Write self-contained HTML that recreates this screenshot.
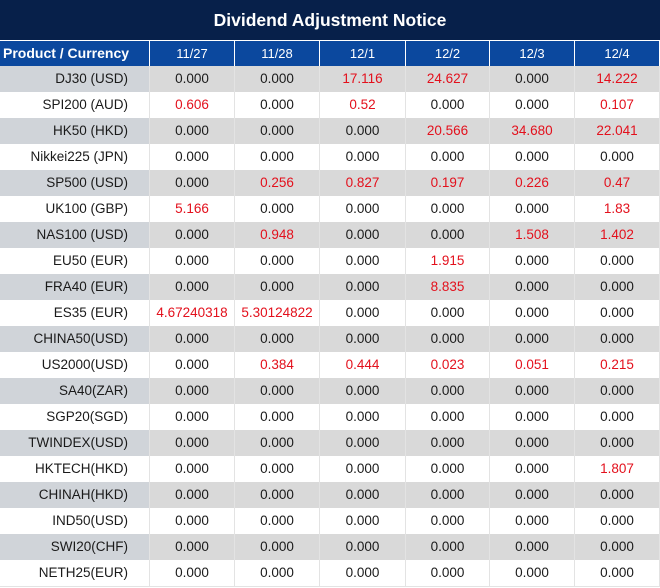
<!DOCTYPE html>
<html><head><meta charset="utf-8">
<style>
*{margin:0;padding:0;box-sizing:border-box}
body{width:660px;height:588px;background:#fff;font-family:"Liberation Sans",Arial,sans-serif;position:relative;overflow:hidden}
.title{position:absolute;left:0;top:0;width:660px;height:40px;background:#07204a;color:#fff;font-weight:bold;font-size:17.5px;text-align:center;line-height:40px}
.row{position:absolute;left:0;width:660px;height:26px}
.c{position:absolute;top:0;height:100%;font-size:13.5px;line-height:26px;text-align:center;color:#1a1a1a;white-space:nowrap}
.hdr .c{background:#0b489e;color:#fff;font-size:13px;line-height:25px}
.hdr .c0{text-align:left;padding-left:3px;padding-right:0;font-weight:bold;font-size:14px}
.c0{left:0;width:149px;text-align:right;padding-right:21px}
.c1{left:150px;width:84px}
.c2{left:235px;width:84px}
.c3{left:320px;width:85px}
.c4{left:406px;width:83px}
.c5{left:490px;width:84px}
.c6{left:575px;width:84px}
.g .c0{background:#d0d4d9}
.g .c1,.g .c2,.g .c3,.g .c4,.g .c5,.g .c6{background:#d9d9d9}
.r{color:#e3101c}
.vl{position:absolute;top:66px;height:521px;width:1px;background:#e3e3e3}
.bl{position:absolute;left:0;top:586px;width:660px;height:1px;background:#e3e3e3}
</style></head><body>
<div class="title">Dividend Adjustment Notice</div>
<div class="vl" style="left:149px"></div>
<div class="vl" style="left:234px"></div>
<div class="vl" style="left:319px"></div>
<div class="vl" style="left:405px"></div>
<div class="vl" style="left:489px"></div>
<div class="vl" style="left:574px"></div>
<div class="vl" style="left:659px"></div>
<div class="bl"></div>
<div class="row hdr" style="top:41px;height:25px"><div class="c c0">Product / Currency</div><div class="c c1">11/27</div><div class="c c2">11/28</div><div class="c c3">12/1</div><div class="c c4">12/2</div><div class="c c5">12/3</div><div class="c c6">12/4</div></div>

<div class="row g" style="top:66px"><div class="c c0">DJ30 (USD)</div><div class="c c1">0.000</div><div class="c c2">0.000</div><div class="c c3 r">17.116</div><div class="c c4 r">24.627</div><div class="c c5">0.000</div><div class="c c6 r">14.222</div></div>
<div class="row" style="top:92px"><div class="c c0">SPI200 (AUD)</div><div class="c c1 r">0.606</div><div class="c c2">0.000</div><div class="c c3 r">0.52</div><div class="c c4">0.000</div><div class="c c5">0.000</div><div class="c c6 r">0.107</div></div>
<div class="row g" style="top:118px"><div class="c c0">HK50 (HKD)</div><div class="c c1">0.000</div><div class="c c2">0.000</div><div class="c c3">0.000</div><div class="c c4 r">20.566</div><div class="c c5 r">34.680</div><div class="c c6 r">22.041</div></div>
<div class="row" style="top:144px"><div class="c c0">Nikkei225 (JPN)</div><div class="c c1">0.000</div><div class="c c2">0.000</div><div class="c c3">0.000</div><div class="c c4">0.000</div><div class="c c5">0.000</div><div class="c c6">0.000</div></div>
<div class="row g" style="top:170px"><div class="c c0">SP500 (USD)</div><div class="c c1">0.000</div><div class="c c2 r">0.256</div><div class="c c3 r">0.827</div><div class="c c4 r">0.197</div><div class="c c5 r">0.226</div><div class="c c6 r">0.47</div></div>
<div class="row" style="top:196px"><div class="c c0">UK100 (GBP)</div><div class="c c1 r">5.166</div><div class="c c2">0.000</div><div class="c c3">0.000</div><div class="c c4">0.000</div><div class="c c5">0.000</div><div class="c c6 r">1.83</div></div>
<div class="row g" style="top:222px"><div class="c c0">NAS100 (USD)</div><div class="c c1">0.000</div><div class="c c2 r">0.948</div><div class="c c3">0.000</div><div class="c c4">0.000</div><div class="c c5 r">1.508</div><div class="c c6 r">1.402</div></div>
<div class="row" style="top:248px"><div class="c c0">EU50 (EUR)</div><div class="c c1">0.000</div><div class="c c2">0.000</div><div class="c c3">0.000</div><div class="c c4 r">1.915</div><div class="c c5">0.000</div><div class="c c6">0.000</div></div>
<div class="row g" style="top:274px"><div class="c c0">FRA40 (EUR)</div><div class="c c1">0.000</div><div class="c c2">0.000</div><div class="c c3">0.000</div><div class="c c4 r">8.835</div><div class="c c5">0.000</div><div class="c c6">0.000</div></div>
<div class="row" style="top:300px"><div class="c c0">ES35 (EUR)</div><div class="c c1 r">4.67240318</div><div class="c c2 r">5.30124822</div><div class="c c3">0.000</div><div class="c c4">0.000</div><div class="c c5">0.000</div><div class="c c6">0.000</div></div>
<div class="row g" style="top:326px"><div class="c c0">CHINA50(USD)</div><div class="c c1">0.000</div><div class="c c2">0.000</div><div class="c c3">0.000</div><div class="c c4">0.000</div><div class="c c5">0.000</div><div class="c c6">0.000</div></div>
<div class="row" style="top:352px"><div class="c c0">US2000(USD)</div><div class="c c1">0.000</div><div class="c c2 r">0.384</div><div class="c c3 r">0.444</div><div class="c c4 r">0.023</div><div class="c c5 r">0.051</div><div class="c c6 r">0.215</div></div>
<div class="row g" style="top:378px"><div class="c c0">SA40(ZAR)</div><div class="c c1">0.000</div><div class="c c2">0.000</div><div class="c c3">0.000</div><div class="c c4">0.000</div><div class="c c5">0.000</div><div class="c c6">0.000</div></div>
<div class="row" style="top:404px"><div class="c c0">SGP20(SGD)</div><div class="c c1">0.000</div><div class="c c2">0.000</div><div class="c c3">0.000</div><div class="c c4">0.000</div><div class="c c5">0.000</div><div class="c c6">0.000</div></div>
<div class="row g" style="top:430px"><div class="c c0">TWINDEX(USD)</div><div class="c c1">0.000</div><div class="c c2">0.000</div><div class="c c3">0.000</div><div class="c c4">0.000</div><div class="c c5">0.000</div><div class="c c6">0.000</div></div>
<div class="row" style="top:456px"><div class="c c0">HKTECH(HKD)</div><div class="c c1">0.000</div><div class="c c2">0.000</div><div class="c c3">0.000</div><div class="c c4">0.000</div><div class="c c5">0.000</div><div class="c c6 r">1.807</div></div>
<div class="row g" style="top:482px"><div class="c c0">CHINAH(HKD)</div><div class="c c1">0.000</div><div class="c c2">0.000</div><div class="c c3">0.000</div><div class="c c4">0.000</div><div class="c c5">0.000</div><div class="c c6">0.000</div></div>
<div class="row" style="top:508px"><div class="c c0">IND50(USD)</div><div class="c c1">0.000</div><div class="c c2">0.000</div><div class="c c3">0.000</div><div class="c c4">0.000</div><div class="c c5">0.000</div><div class="c c6">0.000</div></div>
<div class="row g" style="top:534px"><div class="c c0">SWI20(CHF)</div><div class="c c1">0.000</div><div class="c c2">0.000</div><div class="c c3">0.000</div><div class="c c4">0.000</div><div class="c c5">0.000</div><div class="c c6">0.000</div></div>
<div class="row" style="top:560px"><div class="c c0">NETH25(EUR)</div><div class="c c1">0.000</div><div class="c c2">0.000</div><div class="c c3">0.000</div><div class="c c4">0.000</div><div class="c c5">0.000</div><div class="c c6">0.000</div></div>
</body></html>
